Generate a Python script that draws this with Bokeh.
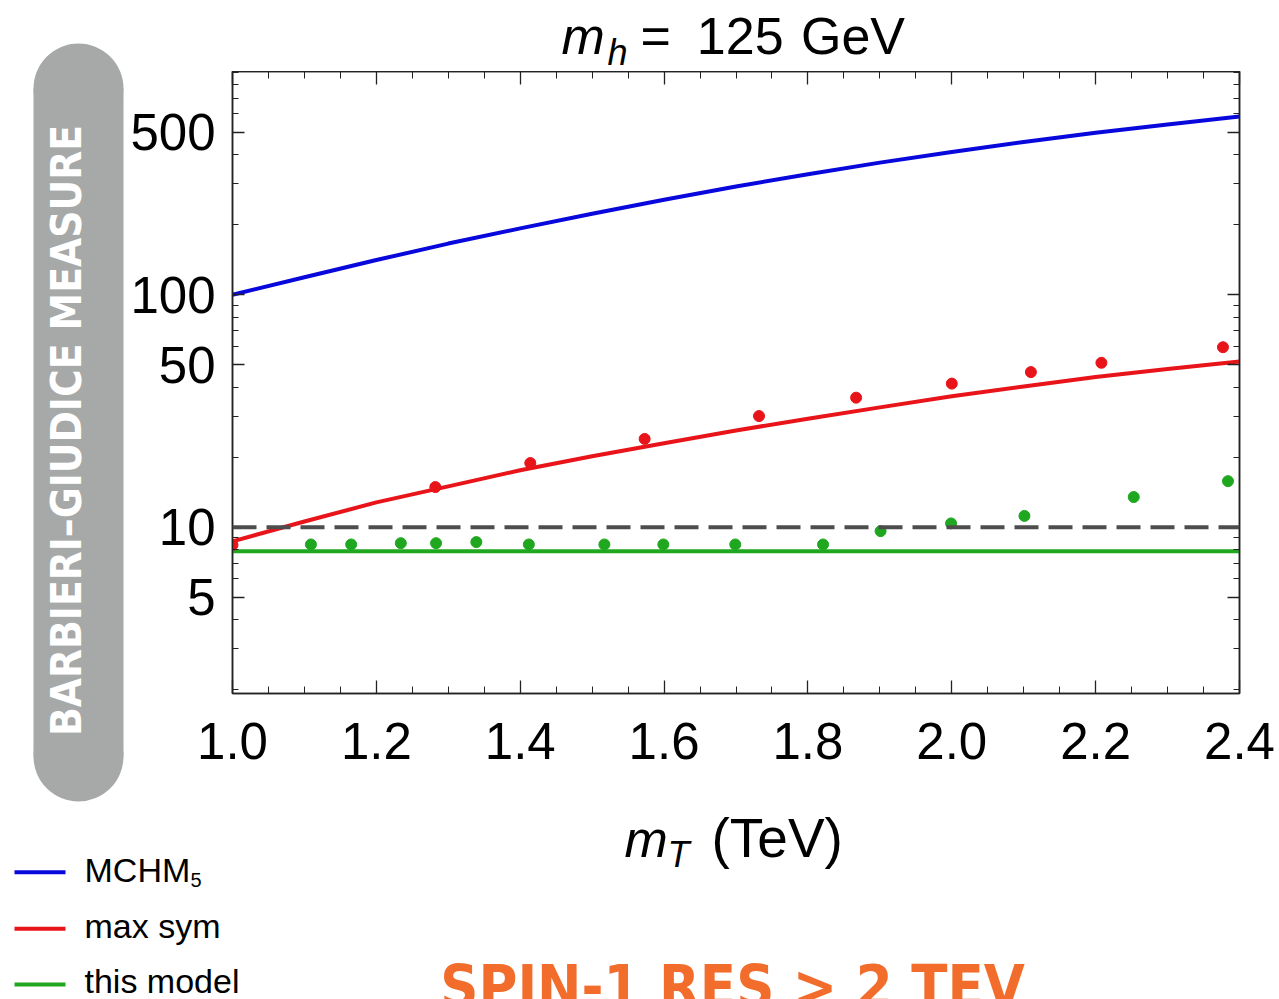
import numpy as np
from bokeh.plotting import figure
from bokeh.layouts import row, column
from bokeh.models import (Span, FixedTicker, LinearAxis, LogAxis,
                          PrintfTickFormatter, Range1d)
from bokeh.core.properties import value
from bokeh.embed import file_html
from bokeh.resources import INLINE

# ---------------- data ----------------
mT_curve = [1.0, 1.1, 1.2, 1.3, 1.4, 1.5, 1.6, 1.7, 1.8, 1.9, 2.0, 2.1, 2.2, 2.3, 2.4]
mchm5_curve = [100, 119, 141, 166, 193, 223, 256, 292, 330, 370, 411, 454, 497, 540, 584]
maxsym_curve = [8.7, 10.6, 12.8, 15.0, 17.6, 20.2, 23.0, 26.1, 29.3, 32.8, 36.6, 40.3, 44.3, 48.0, 51.7]

mT_flat = [1.0, 2.4]
thismodel_curve = [7.9, 7.9]

maxsym_dots_x = [1.0, 1.282, 1.414, 1.573, 1.732, 1.867, 2.0, 2.110, 2.208, 2.377]
maxsym_dots_y = [8.4, 14.9, 18.9, 24.0, 30.1, 36.1, 41.5, 46.5, 51.0, 59.5]

thismodel_dots_x = [1.109, 1.165, 1.234, 1.283, 1.339, 1.412, 1.517, 1.599,
                    1.699, 1.821, 1.901, 1.999, 2.101, 2.253, 2.384]
thismodel_dots_y = [8.44, 8.44, 8.55, 8.55, 8.64, 8.44, 8.44, 8.44,
                    8.44, 8.44, 9.63, 10.4, 11.2, 13.5, 15.8]

reference_level = 10

x_ticks = [1.0, 1.2, 1.4, 1.6, 1.8, 2.0, 2.2, 2.4]
y_ticks = [5, 10, 50, 100, 500]
y_minor = [2, 3, 4, 6, 7, 8, 9, 20, 30, 40, 60, 70, 80, 90, 200, 300, 400, 600, 700, 800, 900]

legend_labels = ["MCHM", "max sym", "this model"]
title_parts = ["m", "h", "=\u2002125\u2004GeV"]
xlabel_parts = ["m", "T", "(TeV)"]
side_text = "BARBIERI\u2013GIUDICE MEASURE"
bottom_text = "SPIN-1 RES > 2 TEV"

BLUE = "#0808dc"
RED = "#e8141a"
GREEN = "#1fa81f"
DASH = "#4d4d4d"
AXIS = "#222222"
BADGE = "#a6a9a8"
FONT = "Liberation Sans"
NARROW = "Liberation Sans Narrow, DejaVu Sans Condensed, Roboto Condensed, sans-serif"
BASE_SHIFT = 0.37   # measured offset of Bokeh's alphabetic baseline, in em


def blank(x0, x1, y0, y1, w, h):
    """Axis-less figure; data coords = page pixels (y negated)."""
    f = figure(width=w, height=h, x_range=Range1d(x0, x1),
               y_range=Range1d(-y1, -y0), output_backend="svg",
               toolbar_location=None, x_axis_location=None, y_axis_location=None,
               min_border=0, outline_line_color=None)
    f.background_fill_color = "white"
    f.border_fill_color = "white"
    f.grid.visible = False
    return f


def txt(f, px, py, text, size, style="normal", font=FONT, color="black",
        align="left", angle=0.0):
    s = BASE_SHIFT * size
    if angle:
        px, y = px - s, py
    else:
        y = py - s
    f.text(x=[px], y=[-y], text=[text], text_font=value(font),
           text_font_size=value(f"{size}px"),
           text_font_style=style, text_color=color, text_align=align,
           text_baseline="alphabetic", angle=angle)


# ---------------- left badge (page x 0..127, y 0..805) ----------------
left = blank(0, 127, 0, 805, 127, 805)
left.quad(left=[33], right=[123], top=[-88], bottom=[-756], fill_color=BADGE, line_color=None)
left.circle(x=[78, 78], y=[-88, -756], radius=45, fill_color=BADGE, line_color=None)
txt(left, 82, 430, side_text, 42, "bold", NARROW, "white", "center", np.pi / 2)

# ---------------- title strip (its frame is aligned with the chart frame: x 232..1239) ----
top = blank(232, 1239, 0, 71, 1152, 71)
txt(top, 561, 55, title_parts[0], 52, "italic")
txt(top, 607, 65, title_parts[1], 36, "italic")
txt(top, 640, 55, title_parts[2], 52)

# ---------------- main chart ----------------
p = figure(width=1152, height=734,
           x_range=Range1d(1.0, 2.4), y_range=Range1d(1.93, 912),
           y_axis_type="log", output_backend="svg", toolbar_location=None,
           min_border_left=105, min_border_right=40,
           min_border_top=0, min_border_bottom=112)
p.background_fill_color = "white"
p.border_fill_color = "white"
p.outline_line_color = AXIS
p.outline_line_width = 1.5
p.xgrid.grid_line_color = None
p.ygrid.grid_line_color = None

x_minor = [float(v) for v in np.round(np.arange(1.0, 2.4001, 0.05), 2)]
xticker = FixedTicker(ticks=x_ticks, minor_ticks=x_minor)
yticker = FixedTicker(ticks=y_ticks, minor_ticks=y_minor)


def style(ax, ticker, show_labels, tin, tmin, standoff):
    ax.ticker = ticker
    ax.axis_line_color = AXIS
    ax.axis_line_width = 1.5
    ax.major_tick_line_color = AXIS
    ax.minor_tick_line_color = AXIS
    ax.major_tick_line_width = 1.3
    ax.minor_tick_line_width = 1.0
    ax.major_tick_in = tin
    ax.major_tick_out = 0
    ax.minor_tick_in = tmin
    ax.minor_tick_out = 0
    ax.major_label_text_font = FONT
    ax.major_label_text_font_size = "51px" if show_labels else "0px"
    ax.major_label_text_color = "black" if show_labels else None
    ax.major_label_standoff = standoff


xaxis = p.xaxis[0]
style(xaxis, xticker, True, 13, 7, 29)
xaxis.formatter = PrintfTickFormatter(format="%.1f")
yaxis = p.yaxis[0]
style(yaxis, yticker, True, 12, 6, 17)
yaxis.formatter = PrintfTickFormatter(format="%d")

top_axis = LinearAxis()
style(top_axis, xticker, False, 13, 7, 0)
p.add_layout(top_axis, "above")
right_axis = LogAxis()
style(right_axis, yticker, False, 12, 6, 0)
p.add_layout(right_axis, "right")

p.line(mT_curve, mchm5_curve, line_color=BLUE, line_width=4)
p.line(mT_curve, maxsym_curve, line_color=RED, line_width=4)
p.line(mT_flat, thismodel_curve, line_color=GREEN, line_width=4)
p.add_layout(Span(location=reference_level, dimension="width", line_color=DASH,
                  line_width=4, line_dash="24 10"))
p.scatter(maxsym_dots_x, maxsym_dots_y, size=11, fill_color=RED, line_color=RED)
p.scatter(thismodel_dots_x, thismodel_dots_y, size=11, fill_color=GREEN, line_color=GREEN)

# ---------------- bottom strip: axis label, legend, headline ----------------
bot = blank(0, 1279, 805, 999, 1279, 194)
txt(bot, 624, 858, xlabel_parts[0], 52, "italic")
txt(bot, 667, 867, xlabel_parts[1], 36, "italic")
txt(bot, 711, 858, xlabel_parts[2], 55)

legend_rows = [871.7, 928.3, 984.0]
legend_base = [881.7, 937.7, 993.3]
for col, yc, yb, lab in zip([BLUE, RED, GREEN], legend_rows, legend_base, legend_labels):
    bot.line(x=[14, 65], y=[-yc, -yc], line_color=col, line_width=4)
    txt(bot, 84, yb, lab, 34)
txt(bot, 190, 887, "5", 20)
txt(bot, 732, 1008, bottom_text, 59, "bold", NARROW, "#f26d2b", "center")

layout = column(row(left, column(top, p)), bot)
open("out.html", "w").write(file_html(layout, INLINE))
